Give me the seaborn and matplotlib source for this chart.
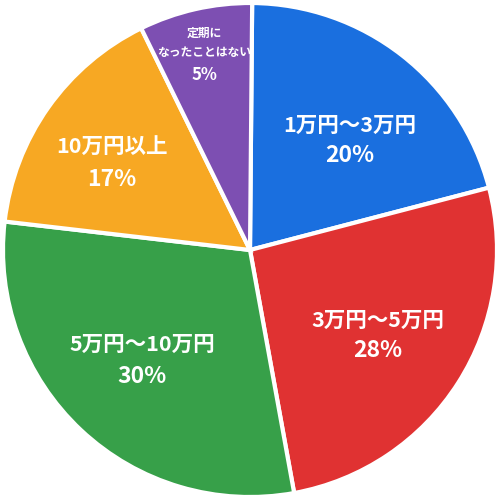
import matplotlib
matplotlib.use("Agg")
import matplotlib.pyplot as plt
import seaborn as sns
import numpy as np

# data
categories = ["1万円～3万円", "3万円～5万円", "5万円～10万円", "10万円以上", "定期に\nなったことはない"]
percents = [20, 28, 30, 17, 5]
# wedge sizes as drawn in the picture (arc measured, in %)
wedge_sizes = [20.8, 26.2, 29.7, 15.9, 7.4]
colors = ["#1a6fdf", "#e03232", "#37a049", "#f7a823", "#7d4fb2"]

# label placement: radius fraction, angle nudge (deg), font sizes, half line gap
label_dist = [0.60, 0.62, 0.625, 0.66, 0.795]
label_nudge = [-4.4, -1.2, -1.0, 3.0, 0.6]
cat_size = [15.5, 15.5, 15.5, 15.5, 8.5]
pct_size = [16.5, 16.5, 16.5, 16.5, 12]
half_gap = [15, 15, 16, 16, 16]

R = 247.0  # radius in pixels

sns.set_theme(style="white")
plt.rcParams["font.family"] = ["Noto Sans CJK JP", "DejaVu Sans"]

fig = plt.figure(figsize=(5, 5.04), dpi=100)
ax = fig.add_axes([0, 0, 1, 1])

wedges, _ = ax.pie(wedge_sizes, colors=colors, startangle=89.5, counterclock=False,
                   radius=1.0, wedgeprops=dict(edgecolor="white", linewidth=3))

for w, cat, val, d, nd, cs, ps, hg in zip(wedges, categories, percents, label_dist,
                                          label_nudge, cat_size, pct_size, half_gap):
    ang = np.deg2rad((w.theta1 + w.theta2) / 2 + nd)
    x, y = d * np.cos(ang), d * np.sin(ang)
    off = hg / R
    ax.text(x, y + off, cat, ha="center", va="center", color="white",
            fontsize=cs, fontweight="bold", linespacing=1.6)
    ax.text(x, y - off, f"{val}%", ha="center", va="center", color="white",
            fontsize=ps, fontweight="bold")

ax.set_xlim(-250 / R, 250 / R)
ax.set_ylim(-254 / R, 250 / R)
ax.set_aspect("auto")
ax.axis("off")

fig.savefig("out.png", dpi=100, facecolor="white")
